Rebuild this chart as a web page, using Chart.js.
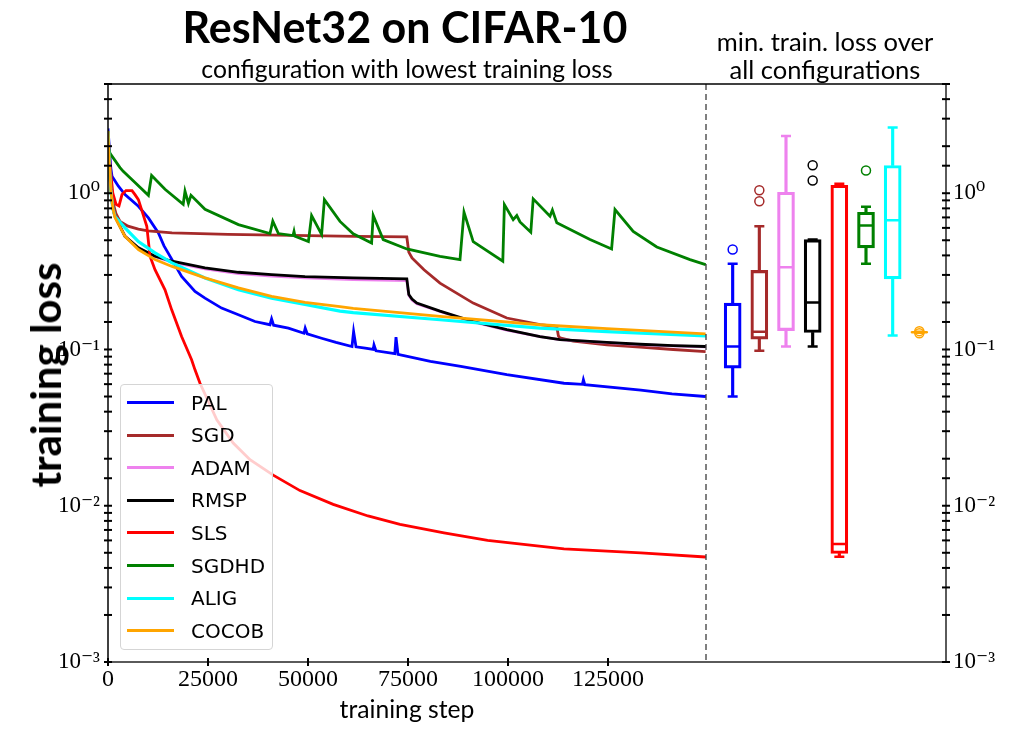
<!DOCTYPE html>
<html lang="en">
<head>
<meta charset="utf-8">
<title>ResNet32 on CIFAR-10</title>
<script src="https://cdn.jsdelivr.net/npm/chart.js@4.4.1/dist/chart.umd.min.js"></script>
<style>
  html, body { margin: 0; padding: 0; background: #fff; }
  #figure { position: relative; width: 1012px; height: 732px; overflow: hidden; font-family: Lato, sans-serif; color: #000; }
  canvas { position: absolute; top: 0; }
  #lineChart { left: 0; }
  #boxChart { left: 690px; }
  .label { position: absolute; white-space: nowrap; transform: translate(-50%, -50%); line-height: 1; }
  #mainTitle { left: 405px; top: 26px; font-size: 43px; font-weight: bold; }
  #subTitle { left: 407px; top: 69px; font-size: 24.7px; }
  #boxTitle { left: 825px; top: 55px; font-size: 25.5px; text-align: center; line-height: 28px; }
  #yTitle { left: 45px; top: 375px; font-size: 42px; font-weight: bold; transform: translate(-50%, -50%) rotate(-90deg); }
  #xTitle { left: 407px; top: 709px; font-size: 24.7px; }
  #legend { position: absolute; left: 120px; top: 384px; width: 151px; height: 264px; border: 1px solid #d5d5d5; border-radius: 4px; background: rgba(255,255,255,0.8); font-family: 'DejaVu Sans', sans-serif; font-size: 20px; }
  .legend-row { position: absolute; left: 0; height: 32px; display: flex; align-items: center; }
  .legend-line { width: 47px; height: 3px; margin-left: 6px; margin-right: 17px; }
</style>
</head>
<body>
<div id="figure">
  <canvas id="lineChart" width="730" height="732"></canvas>
  <canvas id="boxChart" width="322" height="732"></canvas>
  <div class="label" id="mainTitle">ResNet32 on CIFAR-10</div>
  <div class="label" id="subTitle">configuration with lowest training loss</div>
  <div class="label" id="boxTitle">min. train. loss over<br>all configurations</div>
  <div class="label" id="yTitle">training loss</div>
  <div class="label" id="xTitle">training step</div>
  <div id="legend"></div>
</div>
<script>
// optimizers, in plotting order
const seriesNames = ['PAL', 'SGD', 'ADAM', 'RMSP', 'SLS', 'SGDHD', 'ALIG', 'COCOB'];
const seriesColors = ['#0000ff', '#a52a2a', '#ee82ee', '#000000', '#ff0000', '#008000', '#00ffff', '#ffa500'];

// [training step, training loss]
const palLoss = [[0, 2.6], [300, 2.0], [700, 1.45], [1000, 1.285], [2600, 1.11], [4250, 0.98], [7600, 0.825],
  [10100, 0.695], [12600, 0.557], [14000, 0.46], [16000, 0.376], [18400, 0.293], [21750, 0.235], [24250, 0.213],
  [28400, 0.184], [32600, 0.167], [36750, 0.151], [40500, 0.144], [40900, 0.157], [41400, 0.143], [45100, 0.137],
  [49000, 0.127], [49300, 0.137], [49800, 0.126], [53400, 0.118], [57000, 0.111], [61000, 0.1045], [61400, 0.13],
  [62000, 0.104], [64300, 0.102], [66300, 0.1], [66500, 0.107], [67000, 0.098], [71700, 0.094], [72000, 0.12],
  [72500, 0.093], [80600, 0.084], [88200, 0.078], [99700, 0.069], [114000, 0.0608], [118600, 0.0598],
  [118850, 0.064], [119200, 0.0595], [133200, 0.055], [141000, 0.052], [149400, 0.05]];
const sgdLoss = [[0, 2.5], [300, 1.7], [700, 1.15], [1200, 0.88], [2000, 0.74], [3000, 0.66], [5000, 0.615],
  [7600, 0.59], [10000, 0.575], [16000, 0.557], [30000, 0.545], [50000, 0.535], [62000, 0.53], [74700, 0.525],
  [75200, 0.42], [76000, 0.385], [79000, 0.324], [83000, 0.266], [91300, 0.198], [99700, 0.159], [108000, 0.144],
  [112200, 0.14], [112600, 0.122], [113000, 0.1185], [116300, 0.113], [124700, 0.107], [133000, 0.1035],
  [141300, 0.1], [149400, 0.097]];
const adamLoss = [[0, 2.5], [300, 1.6], [700, 1.05], [1200, 0.8], [1750, 0.71], [4250, 0.53], [7600, 0.445],
  [11750, 0.392], [16000, 0.362], [24250, 0.328], [32600, 0.306], [40900, 0.295], [49250, 0.287], [61300, 0.28],
  [74700, 0.276], [75200, 0.222], [76000, 0.207], [77200, 0.196], [83000, 0.175], [91300, 0.15], [99700, 0.133],
  [108000, 0.121], [113000, 0.1157], [124700, 0.1105], [133000, 0.1075], [141300, 0.1055], [149400, 0.104]];
const rmspLoss = [[0, 2.5], [300, 1.6], [700, 1.05], [1200, 0.8], [1750, 0.71], [4250, 0.53], [7600, 0.447],
  [11750, 0.395], [16000, 0.367], [24250, 0.333], [32600, 0.312], [40900, 0.301], [49250, 0.293], [61300, 0.287],
  [74700, 0.283], [75200, 0.225], [76000, 0.21], [77200, 0.198], [83000, 0.176], [91300, 0.151], [99700, 0.134],
  [108000, 0.121], [113000, 0.1157], [124700, 0.111], [133000, 0.108], [141300, 0.106], [149400, 0.1045]];
const slsLoss = [[0, 2.5], [500, 1.5], [1200, 1.0], [2000, 0.85], [2750, 0.83], [3500, 0.98], [4500, 1.04],
  [6000, 1.04], [6750, 0.98], [7600, 0.91], [8400, 0.786], [9700, 0.615], [10500, 0.395], [11750, 0.324],
  [14250, 0.241], [15900, 0.18], [18400, 0.121], [20900, 0.086], [21750, 0.0741], [23000, 0.0608],
  [27200, 0.0355], [31300, 0.0252], [35500, 0.0197], [41300, 0.0157], [48000, 0.0125], [56300, 0.0102],
  [65000, 0.0086], [73000, 0.0076], [84000, 0.0067], [94900, 0.006], [114000, 0.0053], [133200, 0.005],
  [149400, 0.0047]];
const sgdhdLoss = [[0, 2.0], [500, 1.8], [3000, 1.46], [3800, 1.38], [6750, 1.17], [10100, 0.97], [10900, 1.3],
  [14250, 1.06], [18800, 0.85], [19250, 1.03], [20100, 0.86], [20750, 0.97], [24250, 0.79], [32600, 0.63],
  [40500, 0.552], [41200, 0.662], [42600, 0.552], [46250, 0.536], [46500, 0.57], [46750, 0.53], [50100, 0.49],
  [50900, 0.72], [53400, 0.545], [54100, 0.91], [58000, 0.66], [61300, 0.55], [65900, 0.48], [66300, 0.72],
  [68800, 0.505], [74700, 0.44], [83000, 0.395], [88000, 0.376], [89000, 0.756], [91300, 0.49], [98700, 0.367],
  [99100, 0.846], [101300, 0.678], [102200, 0.72], [103000, 0.655], [105700, 0.563], [106300, 0.92],
  [110500, 0.712], [111100, 0.78], [112200, 0.646], [120500, 0.505], [125900, 0.44], [126750, 0.786],
  [131300, 0.57], [137200, 0.453], [145500, 0.376], [149400, 0.349]];
const aligLoss = [[0, 2.5], [300, 1.6], [700, 1.05], [1200, 0.8], [1750, 0.71], [4250, 0.6], [7600, 0.49],
  [11750, 0.415], [16000, 0.358], [24250, 0.287], [32600, 0.241], [40900, 0.213], [49250, 0.194], [58000, 0.176],
  [61300, 0.172], [83000, 0.155], [108000, 0.137], [124700, 0.13], [149400, 0.122]];
const cocobLoss = [[0, 2.5], [300, 1.6], [700, 1.05], [1200, 0.8], [1750, 0.7], [4250, 0.53], [7600, 0.436],
  [11750, 0.376], [16000, 0.34], [24250, 0.287], [32600, 0.248], [40900, 0.219], [49250, 0.2], [58000, 0.188],
  [61300, 0.183], [83000, 0.163], [108000, 0.144], [124700, 0.136], [149400, 0.126]];
const seriesLoss = [palLoss, sgdLoss, adamLoss, rmspLoss, slsLoss, sgdhdLoss, aligLoss, cocobLoss];

// box plot of the minimal training loss over all configurations
const boxLow = [0.05, 0.098, 0.1045, 0.1045, 0.00471, 0.354, 0.123, 0.128];
const boxQ1 = [0.076, 0.1166, 0.132, 0.1285, 0.00495, 0.447, 0.283, 0.128];
const boxMedian = [0.1045, 0.13, 0.336, 0.2, 0.00569, 0.621, 0.671, 0.129];
const boxQ3 = [0.198, 0.321, 1.015, 0.505, 1.125, 0.755, 1.505, 0.13];
const boxHigh = [0.354, 0.614, 2.32, 0.505, 1.15, 0.818, 2.63, 0.13];
const boxOutliers = [[0.436], [0.889, 1.045], [], [1.206, 1.51], [], [1.398], [], [0.127, 0.131]];

// axes
const stepMax = 149500;
const stepTicks = [0, 25000, 50000, 75000, 100000, 125000];
const lossMin = 0.001;
const lossMax = 5;
const lossTicks = [0.001, 0.01, 0.1, 1];
const lossTickLabels = ['10⁻³', '10⁻²', '10⁻¹', '10⁰'];

function lossLabel(value) {
  const i = lossTicks.findIndex(t => Math.abs(t - value) < t * 1e-6);
  return i >= 0 ? lossTickLabels[i] : '';
}

// draws the axes frame (matplotlib style box)
const framePlugin = {
  id: 'frame',
  afterDraw(chart, args, opts) {
    const { ctx, chartArea: { left, right, top, bottom } } = chart;
    const ends = {
      top: [left, top, right, top],
      bottom: [left, bottom, right, bottom],
      left: [left, top, left, bottom],
      right: [right, top, right, bottom],
    };
    ctx.save();
    (opts.sides || []).forEach(s => {
      const [x0, y0, x1, y1] = ends[s.edge];
      ctx.beginPath();
      ctx.strokeStyle = s.color;
      ctx.lineWidth = s.width;
      ctx.setLineDash(s.dash || []);
      ctx.moveTo(x0, y0);
      ctx.lineTo(x1, y1);
      ctx.stroke();
    });
    ctx.restore();
  }
};

// tick marks that cross the axis line
const crossTicksPlugin = {
  id: 'crossTicks',
  afterDraw(chart, args, opts) {
    const { ctx, chartArea } = chart;
    ctx.save();
    ctx.strokeStyle = '#000';
    ctx.lineWidth = 2;
    (opts.axes || []).forEach(id => {
      const scale = chart.scales[id];
      scale.ticks.forEach(t => {
        const p = scale.getPixelForValue(t.value);
        ctx.beginPath();
        if (scale.isHorizontal()) {
          ctx.moveTo(p, chartArea.bottom - 4);
          ctx.lineTo(p, chartArea.bottom + 4);
        } else {
          const x = scale.position === 'right' ? chartArea.right : chartArea.left;
          ctx.moveTo(x - 4, p);
          ctx.lineTo(x + 4, p);
        }
        ctx.stroke();
      });
    });
    ctx.restore();
  }
};

const serifTicks = { family: "'Liberation Serif', 'DejaVu Serif', serif", size: 23 };

new Chart(document.getElementById('lineChart'), {
  type: 'line',
  data: {
    datasets: seriesNames.map((name, i) => ({
      label: name,
      data: seriesLoss[i].map(([x, y]) => ({ x, y })),
      borderColor: seriesColors[i],
      borderWidth: name === 'ALIG' ? 3.2 : 2.8,
      pointRadius: 0,
      tension: 0,
      order: seriesNames.length - 1 - i,
    }))
  },
  options: {
    responsive: false,
    animation: false,
    layout: { padding: { top: 84, right: 24, left: 0, bottom: 0 } },
    plugins: {
      legend: { display: false },
      tooltip: { enabled: false },
      frame: {
        sides: [
          { edge: 'top', color: '#000', width: 1.5 },
          { edge: 'left', color: '#000', width: 1.5 },
          { edge: 'bottom', color: '#5a5a5a', width: 2 },
        ]
      },
      crossTicks: { axes: ['x', 'y'] }
    },
    scales: {
      x: {
        type: 'linear',
        min: 0,
        max: stepMax,
        afterBuildTicks: scale => { scale.ticks = stepTicks.map(v => ({ value: v })); },
        afterFit: scale => { scale.height = 70; },
        ticks: {
          callback: value => String(value),
          font: { ...serifTicks, size: 24 }, color: '#000', padding: 3, maxRotation: 0, autoSkip: false
        },
        grid: { display: false, drawTicks: false },
        border: { display: false }
      },
      y: {
        type: 'logarithmic',
        min: lossMin,
        max: lossMax,
        afterFit: scale => { scale.width = 108; },
        ticks: { callback: lossLabel, font: serifTicks, color: '#000', padding: 8, autoSkip: false },
        grid: { display: false, drawTicks: false },
        border: { display: false }
      }
    }
  },
  plugins: [framePlugin, crossTicksPlugin]
});

// right panel: box plots
const boxCats = ['', ...seriesNames, ''];
const perBox = values => seriesNames.map((name, i) => ({ x: name, y: values[i] }));
const capPoints = [...perBox(boxLow), ...perBox(boxHigh)];
const outlierPoints = [];
const outlierColors = [];
boxOutliers.forEach((vals, i) => vals.forEach(v => {
  outlierPoints.push({ x: seriesNames[i], y: v });
  outlierColors.push(seriesColors[i]);
}));

new Chart(document.getElementById('boxChart'), {
  type: 'bar',
  data: {
    labels: boxCats,
    datasets: [
      {
        label: 'lower whisker',
        data: seriesNames.map((name, i) => ({ x: name, y: [boxLow[i], boxQ1[i]] })),
        backgroundColor: seriesColors,
        borderWidth: 0,
        barThickness: 2.5,
        grouped: false
      },
      {
        label: 'upper whisker',
        data: seriesNames.map((name, i) => ({ x: name, y: [boxQ3[i], boxHigh[i]] })),
        backgroundColor: seriesColors,
        borderWidth: 0,
        barThickness: 2.5,
        grouped: false
      },
      {
        label: 'box',
        data: seriesNames.map((name, i) => ({ x: name, y: [boxQ1[i], boxQ3[i]] })),
        backgroundColor: 'rgba(0,0,0,0)',
        borderColor: seriesColors,
        borderWidth: 2.5,
        borderSkipped: false,
        barThickness: 17,
        grouped: false
      },
      {
        type: 'line',
        label: 'median',
        data: perBox(boxMedian),
        showLine: false,
        pointStyle: 'line',
        pointRadius: 8,
        pointBorderWidth: 2.5,
        pointBorderColor: seriesColors
      },
      {
        type: 'line',
        label: 'caps',
        data: capPoints,
        showLine: false,
        pointStyle: 'line',
        pointRadius: 5,
        pointBorderWidth: 2.5,
        pointBorderColor: [...seriesColors, ...seriesColors]
      },
      {
        type: 'line',
        label: 'outliers',
        data: outlierPoints,
        showLine: false,
        pointStyle: 'circle',
        pointRadius: 4.5,
        pointBorderWidth: 1.5,
        pointBackgroundColor: 'rgba(0,0,0,0)',
        pointBorderColor: outlierColors
      }
    ]
  },
  options: {
    responsive: false,
    animation: false,
    layout: { padding: { top: 84, left: 16, right: 0, bottom: 70 } },
    plugins: {
      legend: { display: false },
      tooltip: { enabled: false },
      frame: {
        sides: [
          { edge: 'top', color: '#000', width: 1.5 },
          { edge: 'bottom', color: '#5a5a5a', width: 2 },
          { edge: 'right', color: '#5a5a5a', width: 2 },
          { edge: 'left', color: '#000', width: 1, dash: [6, 4] },
        ]
      },
      crossTicks: { axes: ['y'] }
    },
    scales: {
      x: { type: 'category', offset: false, display: false },
      y: {
        type: 'logarithmic',
        position: 'right',
        min: lossMin,
        max: lossMax,
        afterFit: scale => { scale.width = 66; },
        ticks: { callback: lossLabel, font: serifTicks, color: '#000', padding: 7, autoSkip: false },
        grid: { display: false, drawTicks: false },
        border: { display: false }
      }
    }
  },
  plugins: [framePlugin, crossTicksPlugin]
});

// legend
const legend = document.getElementById('legend');
legend.innerHTML = seriesNames.map((name, i) => `
  <div class="legend-row" style="top:${1.5 + i * 32.6}px">
    <span class="legend-line" style="background:${seriesColors[i]}"></span>${name}
  </div>`).join('');
</script>
</body>
</html>
